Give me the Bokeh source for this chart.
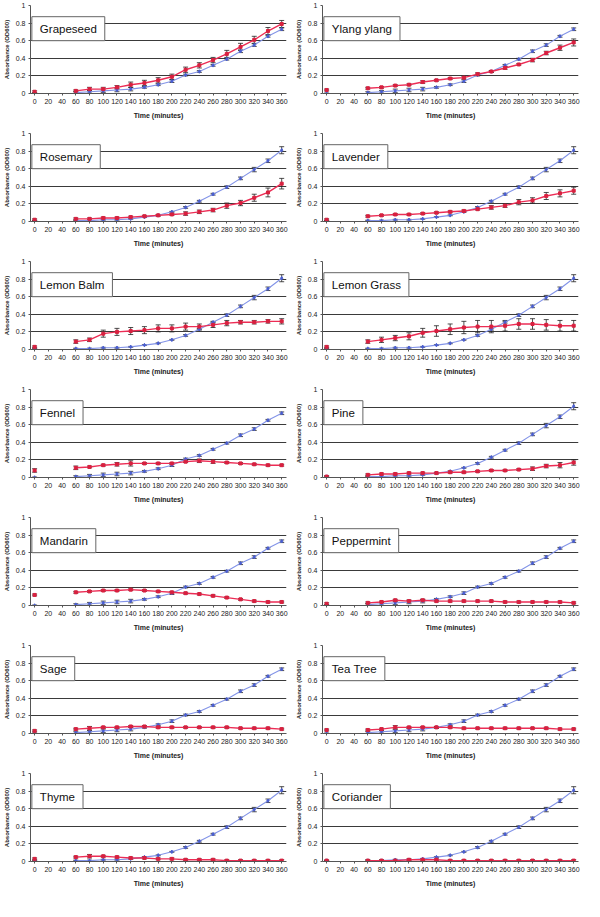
from bokeh.plotting import figure
from bokeh.layouts import gridplot
from bokeh.models import (ColumnDataSource, Whisker, Label, Range1d, FixedTicker,
                          NumeralTickFormatter, TeeHead)
from bokeh.embed import file_html
from bokeh.resources import INLINE

# ---------------- data ----------------
TIME = [0, 60, 80, 100, 120, 140, 160, 180, 200, 220, 240, 260, 280, 300, 320, 340, 360]
X_TICKS = list(range(0, 361, 20))
Y_TICKS = [0, 0.2, 0.4, 0.6, 0.8, 1.0]

CONTROL_A = [0.00, 0.01, 0.02, 0.03, 0.04, 0.05, 0.07, 0.10, 0.14, 0.21, 0.25, 0.32, 0.39, 0.48, 0.55, 0.65, 0.73]
CONTROL_A_ERR = [0.005, 0.01, 0.015, 0.02, 0.02, 0.02, 0.01, 0.01, 0.015, 0.01, 0.01, 0.01, 0.01, 0.015, 0.015, 0.01, 0.015]
CONTROL_B = [0.01, 0.01, 0.01, 0.02, 0.02, 0.03, 0.05, 0.07, 0.11, 0.16, 0.23, 0.31, 0.39, 0.49, 0.59, 0.69, 0.81]
CONTROL_B_ERR = [0.005, 0.005, 0.005, 0.005, 0.005, 0.005, 0.005, 0.005, 0.005, 0.01, 0.01, 0.01, 0.015, 0.015, 0.025, 0.02, 0.04]

GRAPESEED = [0.02, 0.03, 0.05, 0.05, 0.07, 0.10, 0.12, 0.15, 0.19, 0.27, 0.32, 0.38, 0.45, 0.53, 0.61, 0.71, 0.79]
GRAPESEED_ERR = [0.01, 0.01, 0.02, 0.02, 0.02, 0.03, 0.03, 0.03, 0.03, 0.03, 0.03, 0.03, 0.04, 0.04, 0.04, 0.04, 0.04]
YLANG = [0.04, 0.06, 0.07, 0.09, 0.10, 0.13, 0.15, 0.17, 0.18, 0.22, 0.25, 0.29, 0.33, 0.38, 0.46, 0.52, 0.58]
YLANG_ERR = [0.01, 0.01, 0.01, 0.01, 0.01, 0.015, 0.01, 0.01, 0.015, 0.015, 0.01, 0.015, 0.01, 0.02, 0.02, 0.03, 0.04]
ROSEMARY = [0.02, 0.03, 0.03, 0.04, 0.04, 0.05, 0.06, 0.07, 0.08, 0.09, 0.11, 0.13, 0.18, 0.21, 0.27, 0.33, 0.43]
ROSEMARY_ERR = [0.01, 0.01, 0.01, 0.01, 0.01, 0.01, 0.01, 0.01, 0.01, 0.02, 0.02, 0.02, 0.03, 0.03, 0.04, 0.05, 0.06]
LAVENDER = [0.02, 0.06, 0.07, 0.08, 0.08, 0.09, 0.10, 0.11, 0.12, 0.14, 0.16, 0.18, 0.22, 0.24, 0.29, 0.32, 0.35]
LAVENDER_ERR = [0.01, 0.01, 0.01, 0.01, 0.01, 0.01, 0.01, 0.01, 0.01, 0.01, 0.02, 0.02, 0.03, 0.03, 0.04, 0.04, 0.04]
LEMON_BALM = [0.03, 0.09, 0.11, 0.18, 0.20, 0.21, 0.22, 0.24, 0.24, 0.26, 0.26, 0.28, 0.30, 0.31, 0.31, 0.32, 0.32]
LEMON_BALM_ERR = [0.01, 0.02, 0.02, 0.04, 0.04, 0.04, 0.04, 0.04, 0.04, 0.04, 0.03, 0.03, 0.03, 0.02, 0.02, 0.02, 0.03]
LEMON_GRASS = [0.03, 0.09, 0.11, 0.13, 0.15, 0.19, 0.21, 0.23, 0.25, 0.26, 0.26, 0.27, 0.29, 0.29, 0.28, 0.27, 0.27]
LEMON_GRASS_ERR = [0.01, 0.02, 0.03, 0.03, 0.04, 0.05, 0.06, 0.06, 0.07, 0.07, 0.07, 0.06, 0.06, 0.06, 0.06, 0.06, 0.06]
FENNEL = [0.08, 0.11, 0.12, 0.14, 0.15, 0.16, 0.16, 0.16, 0.16, 0.18, 0.19, 0.18, 0.17, 0.16, 0.15, 0.14, 0.14]
FENNEL_ERR = [0.02, 0.02, 0.01, 0.01, 0.02, 0.03, 0.01, 0.01, 0.01, 0.01, 0.02, 0.02, 0.01, 0.01, 0.01, 0.01, 0.01]
PINE = [0.01, 0.03, 0.04, 0.04, 0.05, 0.05, 0.05, 0.06, 0.06, 0.07, 0.08, 0.08, 0.09, 0.10, 0.13, 0.14, 0.17]
PINE_ERR = [0.01, 0.01, 0.01, 0.01, 0.01, 0.01, 0.01, 0.01, 0.01, 0.01, 0.01, 0.01, 0.01, 0.02, 0.02, 0.03, 0.03]
MANDARIN = [0.12, 0.15, 0.16, 0.17, 0.17, 0.18, 0.17, 0.16, 0.15, 0.14, 0.13, 0.11, 0.09, 0.07, 0.05, 0.04, 0.04]
MANDARIN_ERR = [0.01, 0.01, 0.01, 0.01, 0.01, 0.01, 0.01, 0.01, 0.01, 0.01, 0.01, 0.01, 0.01, 0.01, 0.01, 0.01, 0.01]
PEPPERMINT = [0.02, 0.03, 0.04, 0.06, 0.05, 0.06, 0.05, 0.05, 0.05, 0.05, 0.05, 0.04, 0.04, 0.04, 0.04, 0.04, 0.03]
PEPPERMINT_ERR = [0.01, 0.01, 0.01, 0.01, 0.01, 0.01, 0.01, 0.01, 0.01, 0.01, 0.01, 0.01, 0.01, 0.01, 0.01, 0.01, 0.01]
SAGE = [0.03, 0.05, 0.06, 0.07, 0.07, 0.08, 0.08, 0.07, 0.07, 0.07, 0.07, 0.07, 0.07, 0.06, 0.06, 0.06, 0.05]
SAGE_ERR = [0.01, 0.01, 0.02, 0.01, 0.01, 0.01, 0.01, 0.01, 0.01, 0.01, 0.01, 0.01, 0.01, 0.01, 0.01, 0.01, 0.01]
TEA_TREE = [0.04, 0.04, 0.05, 0.07, 0.07, 0.07, 0.07, 0.07, 0.06, 0.06, 0.06, 0.06, 0.06, 0.06, 0.06, 0.05, 0.05]
TEA_TREE_ERR = [0.01, 0.01, 0.01, 0.02, 0.01, 0.01, 0.01, 0.01, 0.01, 0.01, 0.01, 0.01, 0.01, 0.01, 0.01, 0.01, 0.01]
THYME = [0.03, 0.05, 0.06, 0.06, 0.05, 0.04, 0.04, 0.03, 0.03, 0.02, 0.02, 0.02, 0.01, 0.01, 0.01, 0.01, 0.01]
THYME_ERR = [0.01, 0.01, 0.02, 0.01, 0.01, 0.01, 0.01, 0.01, 0.01, 0.01, 0.01, 0.01, 0.01, 0.01, 0.01, 0.01, 0.01]
CORIANDER = [0.01, 0.01, 0.01, 0.01, 0.02, 0.02, 0.02, 0.01, 0.01, 0.01, 0.01, 0.01, 0.01, 0.01, 0.01, 0.01, 0.01]
CORIANDER_ERR = [0.005, 0.01, 0.01, 0.01, 0.01, 0.01, 0.01, 0.01, 0.01, 0.01, 0.01, 0.01, 0.01, 0.01, 0.01, 0.01, 0.01]

PANELS = [
    ("Grapeseed", CONTROL_A, CONTROL_A_ERR, GRAPESEED, GRAPESEED_ERR),
    ("Ylang ylang", CONTROL_A, CONTROL_A_ERR, YLANG, YLANG_ERR),
    ("Rosemary", CONTROL_B, CONTROL_B_ERR, ROSEMARY, ROSEMARY_ERR),
    ("Lavender", CONTROL_B, CONTROL_B_ERR, LAVENDER, LAVENDER_ERR),
    ("Lemon Balm", CONTROL_B, CONTROL_B_ERR, LEMON_BALM, LEMON_BALM_ERR),
    ("Lemon Grass", CONTROL_B, CONTROL_B_ERR, LEMON_GRASS, LEMON_GRASS_ERR),
    ("Fennel", CONTROL_A, CONTROL_A_ERR, FENNEL, FENNEL_ERR),
    ("Pine", CONTROL_B, CONTROL_B_ERR, PINE, PINE_ERR),
    ("Mandarin", CONTROL_A, CONTROL_A_ERR, MANDARIN, MANDARIN_ERR),
    ("Peppermint", CONTROL_A, CONTROL_A_ERR, PEPPERMINT, PEPPERMINT_ERR),
    ("Sage", CONTROL_A, CONTROL_A_ERR, SAGE, SAGE_ERR),
    ("Tea Tree", CONTROL_A, CONTROL_A_ERR, TEA_TREE, TEA_TREE_ERR),
    ("Thyme", CONTROL_B, CONTROL_B_ERR, THYME, THYME_ERR),
    ("Coriander", CONTROL_B, CONTROL_B_ERR, CORIANDER, CORIANDER_ERR),
]

# ---------------- style ----------------
FONT = "Liberation Sans"
BLUE_LINE = "#8394e8"
BLUE_MARK = "#4a5ed0"
RED_LINE = "#ec2d55"
RED_MARK = "#d8203f"
ERR_COLOR = "#222222"


def add_series(p, vals, errs, line_color, mark_color, marker, lw, msize):
    src = ColumnDataSource(dict(
        x=TIME, y=vals,
        lo=[v - e for v, e in zip(vals, errs)],
        hi=[v + e for v, e in zip(vals, errs)],
    ))
    line_src = ColumnDataSource(dict(x=TIME[1:], y=vals[1:]))
    p.line("x", "y", source=line_src, line_color=line_color, line_width=lw)
    w = Whisker(base="x", lower="lo", upper="hi", source=src,
                line_color=ERR_COLOR, line_width=0.8,
                lower_head=TeeHead(size=5, line_color=ERR_COLOR, line_width=0.8),
                upper_head=TeeHead(size=5, line_color=ERR_COLOR, line_width=0.8))
    p.add_layout(w)
    p.scatter("x", "y", source=src, marker=marker, size=msize,
              fill_color=mark_color, line_color=mark_color)


def make_panel(name, ctrl, ctrl_err, oil, oil_err):
    p = figure(width=292, height=128, output_backend="svg", toolbar_location=None,
               x_range=Range1d(-6, 367), y_range=Range1d(0, 1.0),
               min_border_left=4, min_border_right=6, min_border_top=5, min_border_bottom=35)
    p.outline_line_color = None
    p.xgrid.visible = False
    p.ygrid.ticker = FixedTicker(ticks=Y_TICKS)
    p.ygrid.grid_line_color = "#3a3a3a"
    p.ygrid.grid_line_width = 1.2

    p.xaxis.ticker = FixedTicker(ticks=X_TICKS)
    p.xaxis.axis_label = "Time (minutes)"
    p.yaxis.ticker = FixedTicker(ticks=Y_TICKS)
    p.yaxis.formatter = NumeralTickFormatter(format="0.[0]")
    p.yaxis.axis_label = "Absorbance (OD600)"
    for ax in (p.xaxis[0], p.yaxis[0]):
        ax.major_label_text_font = FONT
        ax.major_label_text_font_size = "7px"
        ax.major_label_text_color = "#222222"
        ax.axis_label_text_font = FONT
        ax.axis_label_text_font_style = "bold"
        ax.axis_label_text_color = "#222222"
        ax.axis_line_color = "#555555"
        ax.major_tick_line_color = "#555555"
        ax.major_tick_out = 2
        ax.major_tick_in = 0
        ax.minor_tick_line_color = None
        ax.major_label_standoff = 3
    p.xaxis.axis_label_text_font_size = "7px"
    p.xaxis.axis_label_standoff = 5
    p.yaxis.axis_label_text_font_size = "6px"
    p.yaxis.axis_label_standoff = 3

    add_series(p, ctrl, ctrl_err, BLUE_LINE, BLUE_MARK, "diamond", 1.1, 3.5)
    add_series(p, oil, oil_err, RED_LINE, RED_MARK, "square", 1.4, 3)

    lbl = Label(x=-4, y=0.6, text=name, text_font=FONT, text_font_size="11.5px",
                text_color="#111111", text_align="left", text_baseline="bottom",
                background_fill_color="white", border_line_color="#666666",
                border_line_width=1, padding=(8, 6))
    p.add_layout(lbl)
    return p


plots = [make_panel(*args) for args in PANELS]
grid = gridplot(plots, ncols=2, toolbar_location=None)

open("out.html", "w").write(file_html(grid, INLINE))
